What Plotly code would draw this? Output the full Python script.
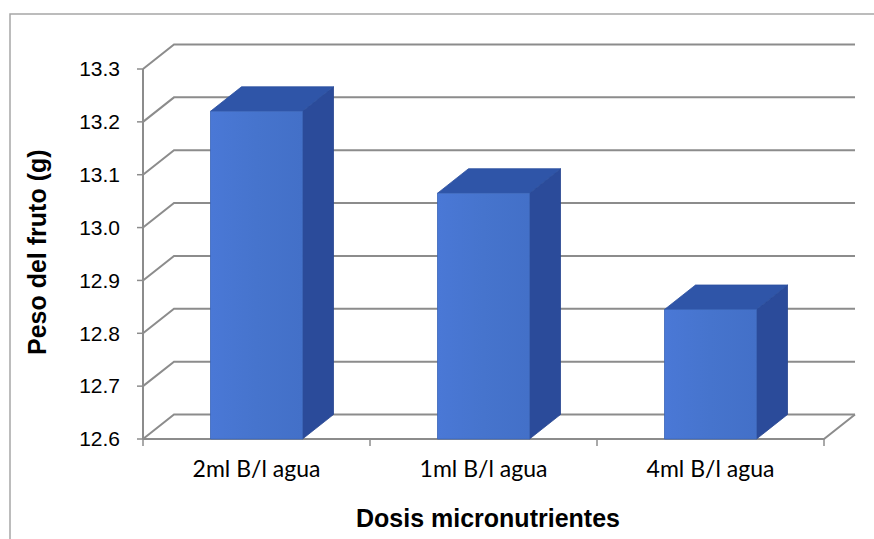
import plotly.graph_objects as go

# ---- data ----
categories = ["2ml B/l agua", "1ml B/l agua", "4ml B/l agua"]
peso_fruto = [13.22, 13.065, 12.845]
y_tick_values = [12.6, 12.7, 12.8, 12.9, 13.0, 13.1, 13.2, 13.3]
y_tick_labels = ["12.6", "12.7", "12.8", "12.9", "13.0", "13.1", "13.2", "13.3"]

# ---- canvas / pseudo-3D geometry (pixels) ----
FIG_W, FIG_H = 874, 539
PLOT_L, PLOT_R, PLOT_T, PLOT_B = 134, 858, 41, 448   # plot area in pixels
X0_PX, Y0_PX = 143, 439                            # front-left-bottom corner
CAT_PX = 227                                       # pixels per category
UNIT_PX = 370 / 0.7                                # pixels per gram
DEPTH_X_PX, DEPTH_Y_PX = 31, 24.5                  # depth offset of the back wall
BAR_W = 92 / CAT_PX                                # bar width in category units

Y_MIN = y_tick_values[0]
Y_MAX = y_tick_values[-1]
x_lo = -0.5
x_hi = len(categories) - 0.5
dx = DEPTH_X_PX / CAT_PX
dy = DEPTH_Y_PX / UNIT_PX

x_range = [x_lo - (X0_PX - PLOT_L) / CAT_PX, x_lo + (PLOT_R - X0_PX) / CAT_PX]
y_range = [Y_MIN - (PLOT_B - Y0_PX) / UNIT_PX, Y_MIN + (Y0_PX - PLOT_T) / UNIT_PX]

GRID = "#8c8c8c"
TOP = "#2f55a8"
SIDE = "#2b4b9a"

fig = go.Figure()

# back wall gridlines with their left-wall diagonals
gx, gy = [], []
for v in y_tick_values:
    gx += [x_lo, x_lo + dx, x_hi + dx, None]
    gy += [v, v + dy, v + dy, None]
fig.add_trace(go.Scatter(x=gx, y=gy, mode="lines",
                         line=dict(color=GRID, width=2), hoverinfo="skip"))

# floor front edge and right diagonal, front value axis
fig.add_trace(go.Scatter(x=[x_lo, x_hi, x_hi + dx], y=[Y_MIN, Y_MIN, Y_MIN + dy],
                         mode="lines", line=dict(color=GRID, width=2), hoverinfo="skip"))
fig.add_trace(go.Scatter(x=[x_lo, x_lo], y=[Y_MIN, Y_MAX],
                         mode="lines", line=dict(color=GRID, width=2), hoverinfo="skip"))

# tick marks on the value axis and category boundaries
tx, ty = [], []
for v in y_tick_values:
    tx += [x_lo - 6 / CAT_PX, x_lo, None]
    ty += [v, v, None]
for b in range(len(categories) + 1):
    xb = x_lo + b
    tx += [xb, xb, None]
    ty += [Y_MIN, Y_MIN - 7 / UNIT_PX, None]
fig.add_trace(go.Scatter(x=tx, y=ty, mode="lines",
                         line=dict(color=GRID, width=1.5), hoverinfo="skip"))

# 3D columns: front face, top face, right side face
for i, (cat, val) in enumerate(zip(categories, peso_fruto)):
    xl, xr = i - BAR_W / 2, i + BAR_W / 2
    # side
    fig.add_trace(go.Scatter(
        x=[xr, xr + dx, xr + dx, xr, xr], y=[Y_MIN, Y_MIN + dy, val + dy, val, Y_MIN],
        mode="lines", fill="toself", fillcolor=SIDE,
        line=dict(color="#27458f", width=0.8), hoverinfo="skip"))
    # top
    fig.add_trace(go.Scatter(
        x=[xl, xl + dx, xr + dx, xr, xl], y=[val, val + dy, val + dy, val, val],
        mode="lines", fill="toself", fillcolor=TOP,
        line=dict(color="#2b4f9e", width=0.8), hoverinfo="skip"))
    # front
    fig.add_trace(go.Scatter(
        x=[xl, xr, xr, xl, xl], y=[Y_MIN, Y_MIN, val, val, Y_MIN],
        mode="lines", fill="toself",
        fillgradient=dict(type="horizontal",
                          colorscale=[[0, "#4a78d6"], [0.5, "#4674cd"], [1, "#4370c8"]]),
        line=dict(color="#3a64b8", width=0.8),
        name=cat, hovertemplate="%{text}<extra></extra>",
        text=[f"{cat}: {val}"] * 5))


def px_to_paper_x(px):
    return (px - PLOT_L) / (PLOT_R - PLOT_L)


def px_to_paper_y(py):
    return (PLOT_B - py) / (PLOT_B - PLOT_T)


fig.update_layout(
    width=FIG_W, height=FIG_H,
    margin=dict(l=PLOT_L, r=FIG_W - PLOT_R, t=PLOT_T, b=FIG_H - PLOT_B),
    paper_bgcolor="white", plot_bgcolor="white",
    showlegend=False,
    xaxis=dict(range=x_range, showgrid=False, zeroline=False, showline=False,
               tickmode="array", tickvals=list(range(len(categories))), ticktext=categories,
               ticks="", ticklabelstandoff=5,
               tickfont=dict(family="Lato", size=23, color="#000000")),
    yaxis=dict(range=y_range, showgrid=False, zeroline=False, showline=False,
               tickmode="array", tickvals=y_tick_values, ticktext=y_tick_labels,
               ticks="", ticklabelstandoff=13,
               tickfont=dict(family="Liberation Sans", size=21, color="#000000")),
    annotations=[
        dict(text="<b>Dosis micronutrientes</b>", xref="paper", yref="paper",
             x=px_to_paper_x(488), y=px_to_paper_y(518), showarrow=False,
             xanchor="center", yanchor="middle",
             font=dict(family="Liberation Sans", size=25, color="#000000")),
        dict(text="<b>Peso del fruto (g)</b>", xref="paper", yref="paper",
             x=px_to_paper_x(37), y=px_to_paper_y(252), showarrow=False, textangle=-90,
             xanchor="center", yanchor="middle",
             font=dict(family="Liberation Sans", size=25, color="#000000")),
    ],
    shapes=[
        # chart area border (top and left edges visible)
        dict(type="rect", xref="paper", yref="paper", layer="below",
             x0=px_to_paper_x(10), x1=px_to_paper_x(FIG_W + 20),
             y0=px_to_paper_y(FIG_H + 20), y1=px_to_paper_y(14),
             line=dict(color="#a6a6a6", width=1.5)),
    ],
)

fig.write_html("out.html")
